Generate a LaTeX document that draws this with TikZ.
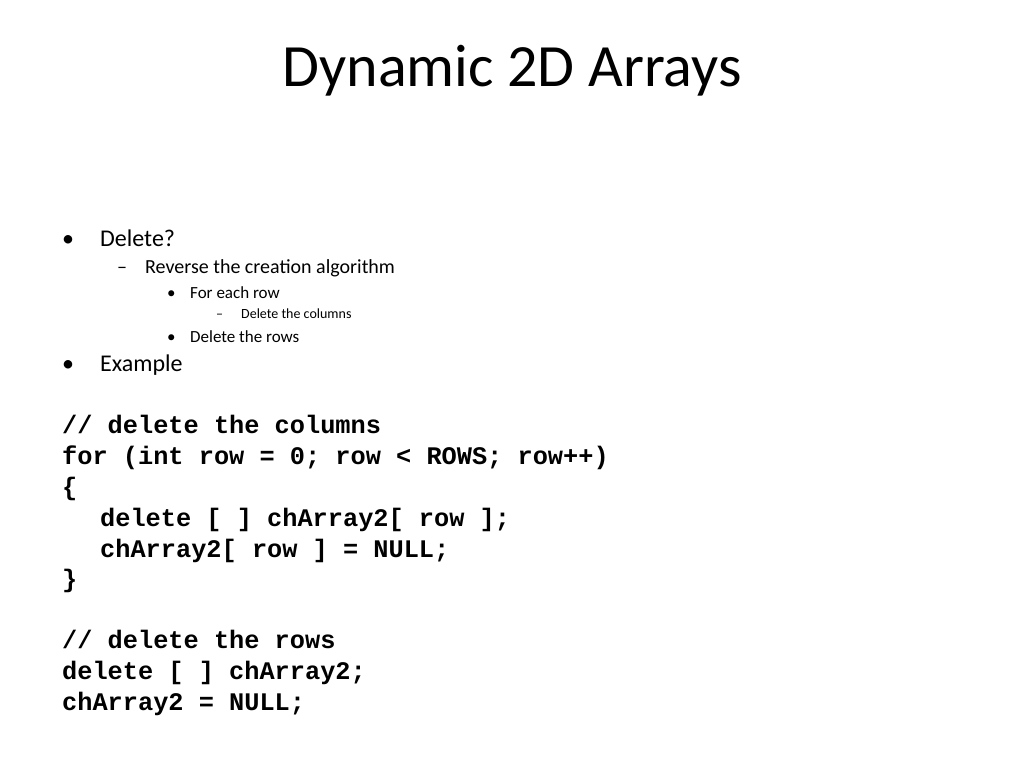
\documentclass[tikz,border=0pt]{standalone}
\usepackage{fontspec}
\setmainfont{Carlito}
\newfontfamily\codef{Liberation Mono}
\begin{document}
\begin{tikzpicture}[x=1pt,y=-1pt,
  t/.style={anchor=base west,inner sep=0pt},
  c/.style={anchor=base west,inner sep=0pt,font=\codef\bfseries\fontsize{25.3}{30}\selectfont}]
\useasboundingbox (0,0) rectangle (1024,768);
\node[inner sep=0pt,anchor=base,font=\fontsize{60}{70}\selectfont] (title) at (512,86) {Dynamic 2D Arrays};
\node[t,font=\fontsize{24}{28}\selectfont] (b1) at (62,246) {•};
\node[t,font=\fontsize{24}{28}\selectfont] (l1) at (100,246) {Delete?};
\node[t,font=\fontsize{20}{24}\selectfont] (b2) at (117,273) {–};
\node[t,font=\fontsize{20}{24}\selectfont] (l2) at (145,273) {Reverse the creation algorithm};
\node[t,font=\fontsize{17}{20}\selectfont] (b3) at (167,298) {•};
\node[t,font=\fontsize{17}{20}\selectfont] (l3) at (190,298) {For each row};
\node[t,font=\fontsize{14}{17}\selectfont] (b4) at (216,318) {–};
\node[t,font=\fontsize{14}{17}\selectfont] (l4) at (241,318) {Delete the columns};
\node[t,font=\fontsize{17}{20}\selectfont] (b5) at (167,342) {•};
\node[t,font=\fontsize{17}{20}\selectfont] (l5) at (190,342) {Delete the rows};
\node[t,font=\fontsize{24}{28}\selectfont] (b6) at (62,371) {•};
\node[t,font=\fontsize{24}{28}\selectfont] (l6) at (100,371) {Example};
\node[c] (c1) at (62,433) {// delete the columns};
\node[c] (c2) at (62,464) {for (int row = 0; row < ROWS; row++)};
\node[c] (c3) at (62,495) {\{};
\node[c] (c4) at (100,526) {delete [ ] chArray2[ row ];};
\node[c] (c5) at (100,557) {chArray2[ row ] = NULL;};
\node[c] (c6) at (62,587) {\}};
\node[c] (c7) at (62,648) {// delete the rows};
\node[c] (c8) at (62,679) {delete [ ] chArray2;};
\node[c] (c9) at (62,710) {chArray2 = NULL;};
\end{tikzpicture}
\end{document}
